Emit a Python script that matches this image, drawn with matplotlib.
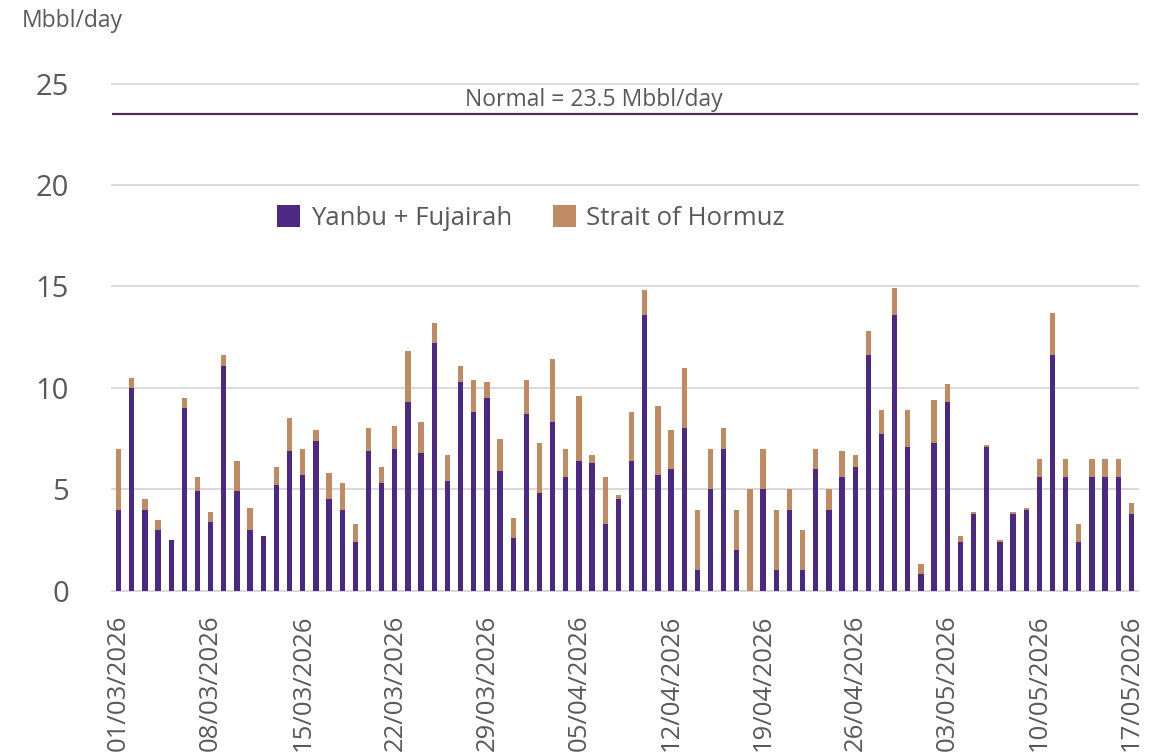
#Daily crude export flows, Mar-May 2026
#stacked bars: Yanbu + Fujairah vs Strait of Hormuz, with normal level line
import numpy as np
import pandas as pd
import matplotlib as mpl
mpl.use("Agg")
import matplotlib.pyplot as plt

mpl.rcParams["font.family"] = ["Open Sans", "DejaVu Sans"]
txt_col = "#595959"
grid_col = "#d9d9d9"
purple = "#4b2884"
tan = "#c08b62"
normal_col = "#4f2d4f"

#%% data (Mbbl/day), daily from 01/03/2026 to 17/05/2026
start_date = "2026-03-01"
end_date = "2026-05-17"
yanbu_fuj = [4.0, 10.0, 4.0, 3.0, 2.5, 9.0, 4.9, 3.4, 11.1, 4.9,
             3.0, 2.7, 5.2, 6.9, 5.7, 7.4, 4.5, 4.0, 2.4, 6.9,
             5.3, 7.0, 9.3, 6.8, 12.2, 5.4, 10.3, 8.8, 9.5, 5.9,
             2.6, 8.7, 4.8, 8.3, 5.6, 6.4, 6.3, 3.3, 4.5, 6.4,
             13.6, 5.7, 6.0, 8.0, 1.0, 5.0, 7.0, 2.0, 0.0, 5.0,
             1.0, 4.0, 1.0, 6.0, 4.0, 5.6, 6.1, 11.6, 7.7, 13.6,
             7.1, 0.8, 7.3, 9.3, 2.4, 3.8, 7.1, 2.4, 3.8, 4.0,
             5.6, 11.6, 5.6, 2.4, 5.6, 5.6, 5.6, 3.8]
total = [7.0, 10.5, 4.5, 3.5, 2.5, 9.5, 5.6, 3.9, 11.6, 6.4,
         4.1, 2.7, 6.1, 8.5, 7.0, 7.9, 5.8, 5.3, 3.3, 8.0,
         6.1, 8.1, 11.8, 8.3, 13.2, 6.7, 11.1, 10.4, 10.3, 7.5,
         3.6, 10.4, 7.3, 11.4, 7.0, 9.6, 6.7, 5.6, 4.7, 8.8,
         14.8, 9.1, 7.9, 11.0, 4.0, 7.0, 8.0, 4.0, 5.0, 7.0,
         4.0, 5.0, 3.0, 7.0, 5.0, 6.9, 6.7, 12.8, 8.9, 14.9,
         8.9, 1.3, 9.4, 10.2, 2.7, 3.9, 7.2, 2.5, 3.9, 4.1,
         6.5, 13.7, 6.5, 3.3, 6.5, 6.5, 6.5, 4.3]
normal_level = 23.5
labels = ["Yanbu + Fujairah", "Strait of Hormuz"]

dates = pd.date_range(start_date, end_date, freq="D")
yanbu_fuj = np.array(yanbu_fuj)
hormuz = np.array(total) - yanbu_fuj
x = np.arange(len(dates))

#%% plot
fig = plt.figure(figsize=(11.63, 7.55), dpi=100)
ax = fig.add_axes([0.0963, 0.2176, 0.8822, 0.6718])

ax.bar(x, yanbu_fuj, width=0.4, color=purple, label=labels[0], zorder=3)
ax.bar(x, hormuz, width=0.4, bottom=yanbu_fuj, color=tan, label=labels[1], zorder=3)

ax.axhline(normal_level, color=normal_col, lw=1.6, zorder=4)
ax.text(36.1, normal_level + 0.12, "Normal = %.1f Mbbl/day" % normal_level,
        ha="center", va="bottom", fontsize=16.5, color=txt_col)

ax.set_xlim(-0.5, len(x) - 0.5)
ax.set_ylim(0, 25)
ax.set_yticks(np.arange(0, 26, 5))
ax.yaxis.grid(True, color=grid_col, lw=1.4, zorder=0)
for gl in ax.get_ygridlines():
    gl.set_clip_on(False)
ax.set_axisbelow(True)

tick_idx = x[::7]
ax.set_xticks(tick_idx)
ax.set_xticklabels([d.strftime("%d/%m/%Y") for d in dates[::7]], rotation=90,
                   va="top", ha="center")

for s in ["top", "right", "left"]:
    ax.spines[s].set_visible(False)
ax.spines["bottom"].set_color(grid_col)
ax.spines["bottom"].set_linewidth(1.4)
ax.tick_params(axis="x", length=0, pad=17, labelsize=18.5, colors=txt_col)
ax.tick_params(axis="y", length=0, pad=31, labelsize=21, colors=txt_col)

fig.text(22 / 1163, 1 - 21 / 755, "Mbbl/day", fontsize=16.5, color=txt_col,
         ha="left", va="center")

ax.legend(loc="center", bbox_to_anchor=(531 / 1163, 1 - 218 / 755),
          bbox_transform=fig.transFigure, ncol=2, frameon=False, fontsize=18.5,
          labelcolor=txt_col, handlelength=0.9, handleheight=0.9,
          handletextpad=0.4, columnspacing=1.6, borderpad=0)

plt.savefig("out.png", dpi=100)
